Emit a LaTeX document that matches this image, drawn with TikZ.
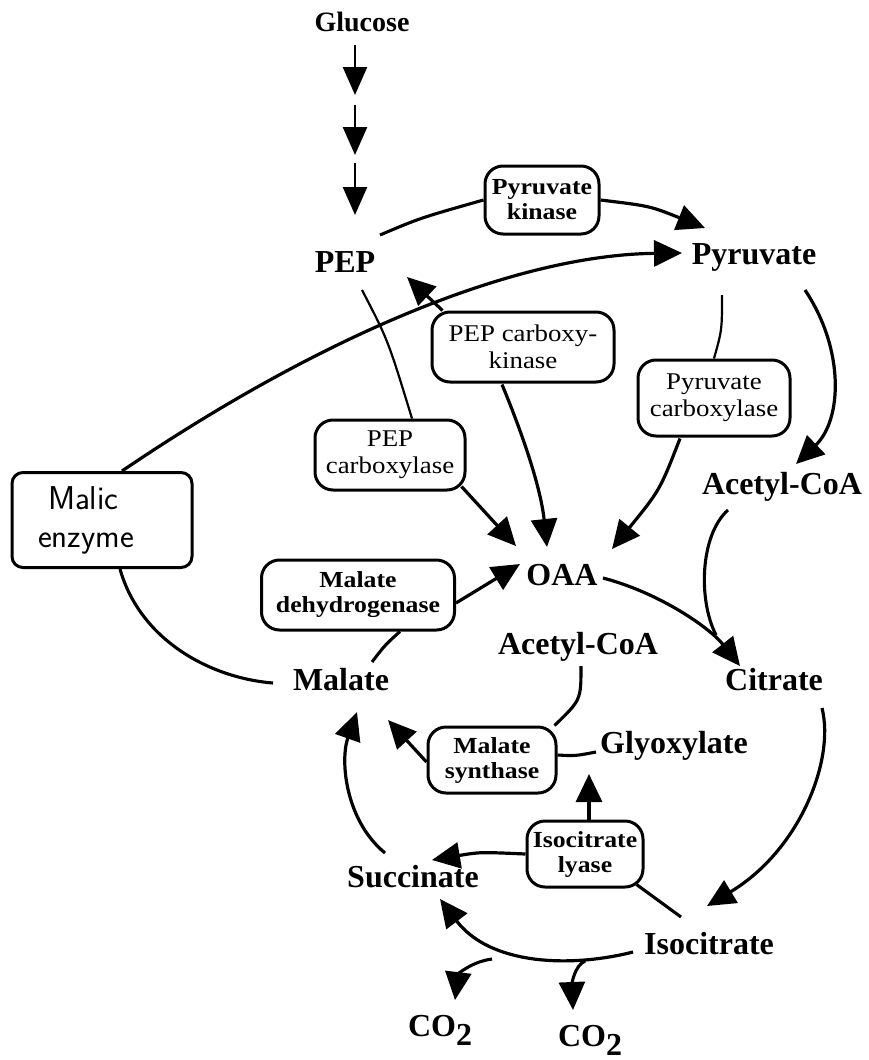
\documentclass[tikz,border=0pt]{standalone}
\usepackage{fontspec}
\setmainfont{Liberation Serif}
\newfontfamily\enzfont{Liberation Serif}[FakeStretch=1.12]
\usetikzlibrary{arrows.meta}
\begin{document}
\begin{tikzpicture}[x=1pt,y=-1pt,
  met/.style={font=\fontsize{32}{34}\selectfont\bfseries, inner sep=1pt},
  enz/.style={draw, line width=3pt, rounded corners=18pt, align=center,
    inner sep=0pt, font=\enzfont\fontsize{23}{25}\selectfont\bfseries},
  enzreg/.style={enz, font=\enzfont\fontsize{24}{27}\selectfont},
  flow/.style={line width=3.2pt, -{Triangle[length=28pt,width=26pt]}},
  garrow/.style={line width=2.6pt, -{Triangle[length=28pt,width=24pt]}},
  link/.style={line width=3.1pt},
  thin link/.style={line width=2.2pt}]
\useasboundingbox (0,0) rectangle (868,1060);

% metabolites
\node[met, font=\fontsize{28}{30}\selectfont\bfseries] (glu) at (362,22) {Glucose};
\node[met] (pep) at (345,262) {PEP};
\node[met] (pyr) at (754,257) {Pyruvate};
\node[met] (acr) at (782,487) {Acetyl-CoA};
\node[met] (oaa) at (562,575) {OAA};
\node[met] (cit) at (774,680) {Citrate};
\node[met] (mal) at (341,680) {Malate};
\node[met] (acm) at (578,647) {Acetyl-CoA};
\node[met] (gly) at (674,746) {Glyoxylate};
\node[met] (suc) at (413,877) {Succinate};
\node[met] (iso) at (709,944) {Isocitrate};
\node[met] (co2a) at (440,1030) {CO\raisebox{-0.28em}{2}};
\node[met] (co2b) at (590,1040) {CO\raisebox{-0.28em}{2}};

% enzymes
\node[enz, minimum width=114pt, minimum height=68pt] (pk) at (542,200) {Pyruvate\\kinase};
\node[enzreg, minimum width=182pt, minimum height=70pt] (pck) at (523,347) {PEP carboxy-\\kinase};
\node[enzreg, minimum width=150pt, minimum height=70pt] (pc) at (390,455) {PEP\\carboxylase};
\node[enzreg, minimum width=152pt, minimum height=76pt] (pyc) at (714,398) {Pyruvate\\carboxylase};
\node[draw, line width=3pt, rounded corners=11pt, minimum width=180pt, minimum height=95pt,
  text width=112pt, align=left, font=\fontsize{33}{38}\selectfont\sffamily] (me) at (102,520)
  {\hspace*{2pt}Malic\\\hspace*{-8pt}enzyme};
\node[enz, minimum width=193pt, minimum height=70pt] (mdh) at (358,595) {Malate\\dehydrogenase};
\node[enz, minimum width=128pt, minimum height=66pt] (ms) at (492,760) {Malate\\synthase};
\node[enz, minimum width=116pt, minimum height=66pt] (il) at (585,854) {Isocitrate\\lyase};

% glycolysis steps
\coordinate (s1) at (355,45);
\coordinate (s2) at (355,105);
\coordinate (s3) at (355,163);
\draw[garrow] (s1) -- ++(0,50);
\draw[garrow] (s2) -- ++(0,50);
\draw[garrow] (s3) -- ([shift={(10,-47)}]pep.center);

% pyruvate kinase
\draw[link] ([shift={(35,-27)}]pep.center) .. controls (420,218) .. (pk.west);
\draw[flow] (pk.east) .. controls (650,206) .. ([shift={(-49,-29)}]pyr.center);

% malic enzyme
\draw[flow] ([xshift=20pt]me.north) .. controls (330,330) and (520,255) .. ([shift={(-72,-4)}]pyr.center);
\draw[link] ([xshift=18pt]me.south) .. controls (140,640) and (210,678) .. ([shift={(-68,3)}]mal.center);

% PEP carboxykinase
\draw[flow] ([shift={(12,0)}]pck.north west) -- ([shift={(62,15)}]pep.center);
\draw[flow] ([shift={(-21,1)}]pck.south) .. controls (525,440) and (541,490) .. ([shift={(-15,-28)}]oaa.center);

% PEP carboxylase
\draw[thin link] ([shift={(17,28)}]pep.center) .. controls (388,340) .. ([xshift=22pt]pc.north);
\draw[flow] ([shift={(-5,-5)}]pc.south east) -- ([shift={(-46,-29)}]oaa.center);

% pyruvate carboxylase
\draw[thin link] ([shift={(-32,38)}]pyr.center) .. controls (722,330) .. (pyc.north);
\draw[flow] ([shift={(-34,1)}]pyc.south) .. controls (660,490) .. ([shift={(50,-26)}]oaa.center);

% pyruvate to acetyl-CoA
\draw[flow] ([shift={(51,33)}]pyr.center) .. controls (845,350) and (842,420) .. ([shift={(14,-23)}]acr.center);

% malate dehydrogenase
\draw[flow] ([yshift=-8pt]mdh.east) -- ([shift={(-42,-11)}]oaa.center);
\draw[link] ([shift={(31,-18)}]mal.center) .. controls (385,645) .. ([xshift=42pt]mdh.south);

% citrate synthase
\coordinate (join) at (716,635);
\draw[flow] ([shift={(41,3)}]oaa.center) .. controls (660,593) and (710,628) .. ([shift={(-34,-14)}]cit.center);
\draw[link] ([shift={(-54,23)}]acr.center) .. controls (700,535) and (698,600) .. (join);

% malate synthase
\draw[link] ([shift={(3,19)}]acm.center) .. controls (581,700) .. ([xshift=-3pt]ms.north east);
\draw[link] ([shift={(-78,6)}]gly.center) .. controls (575,756) .. ([yshift=5pt]ms.east);
\draw[flow] ([yshift=-2pt]ms.west) -- ([shift={(47,40)}]mal.center);

% isocitrate lyase
\draw[flow] ([xshift=4pt]il.north) -- ([shift={(-85,28)}]gly.center);
\draw[flow] (il.west) .. controls (480,852) .. ([shift={(19,-17)}]suc.center);
\draw[link] ([shift={(-8,-4)}]il.south east) -- ([shift={(-28,-27)}]iso.center);

% TCA cycle
\draw[flow] ([shift={(48,28)}]cit.center) .. controls (835,760) and (800,850) .. ([shift={(-2,-38)}]iso.center);
\coordinate (b1) at (492,959);
\coordinate (b2) at (585,961);
\draw[flow] ([shift={(-76,8)}]iso.center) .. controls (570,968) and (490,965) .. ([shift={(27,22)}]suc.center);
\draw[link, -{Triangle[length=28pt,width=26pt]}] (b1) .. controls (470,962) and (458,975) .. ([shift={(15,-30)}]co2a.center);
\draw[link, -{Triangle[length=28pt,width=26pt]}] (b2) .. controls (574,966) and (572,985) .. ([shift={(-17,-30)}]co2b.center);
\draw[flow] ([shift={(-28,-24)}]suc.center) .. controls (345,820) and (340,760) .. ([shift={(16,32)}]mal.center);
\end{tikzpicture}
\end{document}
